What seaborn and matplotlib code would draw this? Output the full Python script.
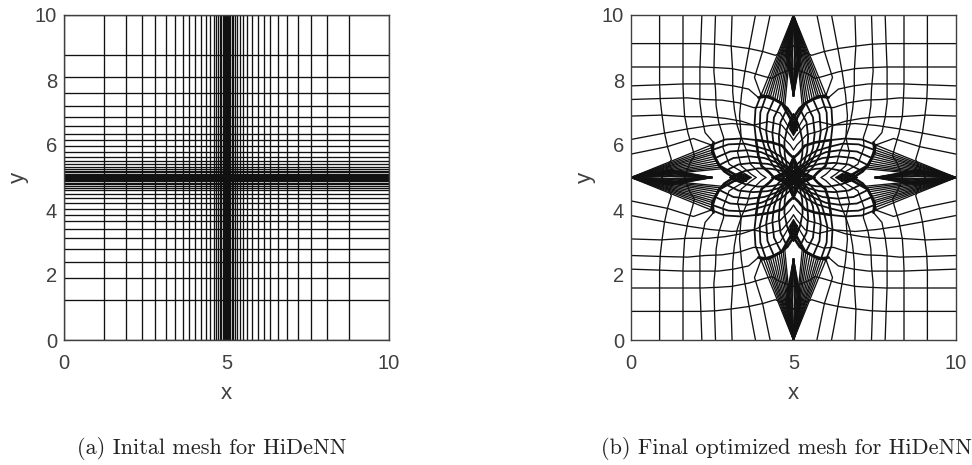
import matplotlib
matplotlib.use('Agg')
import matplotlib.pyplot as plt
import seaborn as sns

sns.set_theme(style='white')
plt.rcParams['font.family'] = ['Liberation Sans', 'DejaVu Sans']

# initial mesh, grid line positions
grid_left = [0, 1.23, 1.90, 2.39, 2.80, 3.14, 3.42, 3.66, 3.86, 4.04, 4.21, 4.36, 4.49,
             4.60, 4.67, 4.73, 4.79, 4.84, 4.88, 4.91, 4.94, 4.97]
grid_right = [10, 8.77, 8.10, 7.61, 7.20, 6.86, 6.58, 6.34, 6.14, 5.96, 5.79, 5.64, 5.51,
              5.40, 5.33, 5.27, 5.21, 5.16, 5.12, 5.09, 5.06, 5.03, 5.0]

# final mesh: lines that start on the left edge, as (dx, dy) offsets from the centre,
# read from the top left quadrant. The picture is symmetric so the rest is mirrored.
outer_lines = [
    [(5, 4.12), (4.12, 4.12), (3.38, 4.12), (2.84, 4.12), (2.38, 4.10), (1.88, 4.04), (1.38, 3.97), (0.92, 3.87), (0.56, 3.76), (0.36, 3.84), (0.15, 3.95), (0, 4.05)],
    [(5, 3.40), (4.12, 3.40), (3.38, 3.40), (2.82, 3.40), (2.36, 3.38), (1.90, 3.35), (1.38, 3.25), (0.87, 3.10), (0.66, 3.05), (0.46, 3.18), (0.15, 3.30), (0, 3.35)],
    [(5, 2.82), (4.12, 2.85), (3.34, 2.88), (2.80, 2.88), (2.31, 2.88), (1.85, 2.82), (1.38, 2.72), (1.08, 2.46)],
    [(5, 2.40), (4.07, 2.43), (3.26, 2.45), (2.72, 2.40), (2.20, 2.38), (1.69, 2.30), (1.23, 2.15), (0.92, 2.17), (0.41, 1.98), (0.15, 1.55), (0, 1.3)],
    [(5, 1.89), (4.08, 1.92), (3.25, 1.87), (2.62, 1.87), (2.10, 1.82), (1.59, 1.73), (1.23, 1.61), (0.77, 1.72), (0.36, 1.61), (0.10, 1.30), (0, 1.15)],
    [(5, 1.17), (4.0, 1.36), (3.23, 1.50), (2.56, 1.60), (1.90, 1.66), (1.23, 1.61), (0.77, 1.42), (0.41, 1.32), (0.10, 1.0), (0, 0.85)],
    [(5, 0.72), (3.88, 0.95), (3.08, 1.20), (2.53, 1.00)],
]

# dark bands where several mesh lines run together
thick_lines = [
    [(1.08, 2.46), (0.77, 2.50), (0.36, 2.28), (0.10, 1.82), (0, 1.6)],
    [(1.13, 1.15), (0.67, 1.08), (0.35, 0.98), (0.15, 0.74), (0, 0.6)],
    [(2.53, 1.00), (2.49, 0.85), (2.41, 0.60), (2.29, 0.38), (2.13, 0.19), (1.90, 0.04)],
]

# fan that leaves the left edge at the centre line and ends on the petal arc
fan_ends = [(2.53, 1.0), (2.51, 0.92), (2.49, 0.85), (2.47, 0.78), (2.45, 0.72), (2.42, 0.65),
            (2.40, 0.58), (2.37, 0.51), (2.33, 0.44), (2.29, 0.38), (2.25, 0.32), (2.20, 0.27)]

# black wedge along the centre line, lens further in, and the star at the centre
wedge_heights = [0.03, 0.06, 0.09, 0.12, 0.15, 0.18, 0.21, 0.24]
lens_heights = [0.03, 0.06, 0.09, 0.12, 0.15]
lens_hatch = [1.45, 1.50, 1.55, 1.60, 1.65, 1.70, 1.75, 1.80, 1.85]
star_heights = [0.03, 0.06, 0.09, 0.12, 0.15, 0.18, 0.21]

# domes that carry on from the fan towards the centre
dome_lines = [
    [(2.53, 1.00), (2.10, 1.17), (1.59, 1.20), (1.13, 1.15)],
    [(2.49, 0.85), (2.0, 1.02), (1.5, 1.04), (1.13, 0.95), (0.7, 0.82), (0.35, 0.62), (0.1, 0.4), (0, 0.3)],
    [(2.41, 0.60), (1.95, 0.80), (1.42, 0.84), (1.0, 0.78), (0.62, 0.62), (0.3, 0.42), (0.08, 0.22)],
    [(2.29, 0.38), (1.85, 0.60), (1.35, 0.65), (0.9, 0.60), (0.52, 0.46), (0.25, 0.30), (0.05, 0.12)],
    [(2.13, 0.19), (1.70, 0.40), (1.25, 0.45), (0.8, 0.42), (0.42, 0.32), (0.18, 0.18), (0.03, 0.05)],
    [(1.90, 0.04), (1.50, 0.20), (1.10, 0.28), (0.7, 0.27), (0.35, 0.20), (0.12, 0.10), (0, 0)],
]

ticks = [0, 2, 4, 6, 8, 10]
xticks = [0, 5, 10]
captions = ['(a) Inital mesh for HiDeNN', '(b) Final optimized mesh for HiDeNN']

fig = plt.figure(figsize=(9.72, 4.65), dpi=100)
ax1 = fig.add_axes([64 / 972, 1 - 340 / 465, 325 / 972, 325 / 465])
ax2 = fig.add_axes([631 / 972, 1 - 340 / 465, 325 / 972, 325 / 465])

line_kw = dict(color='#111111', lw=0.95, solid_joinstyle='round')
dome_kw = dict(color='#111111', lw=1.3, solid_joinstyle='round')
thick_kw = dict(color='#111111', lw=1.9, solid_joinstyle='round')

for v in grid_left + grid_right:
    ax1.axvline(v, **line_kw)
    ax1.axhline(v, **line_kw)


def draw_mirrored(ax, pts, kw=line_kw):
    for sx in (-1, 1):
        for sy in (-1, 1):
            ax.plot([5 + sx * p[0] for p in pts], [5 + sy * p[1] for p in pts], **kw)
            ax.plot([5 + sx * p[1] for p in pts], [5 + sy * p[0] for p in pts], **kw)


for pts in outer_lines:
    draw_mirrored(ax2, pts)
for pts in dome_lines:
    draw_mirrored(ax2, pts, dome_kw)
for pts in thick_lines:
    draw_mirrored(ax2, pts, thick_kw)
for end in fan_ends:
    draw_mirrored(ax2, [(5, 0.0), end])
for h in wedge_heights:
    draw_mirrored(ax2, [(5, 0.0), (3.8, h), (2.5, 0.0)])
for h in lens_heights:
    draw_mirrored(ax2, [(1.95, 0.0), (1.65, h), (1.35, 0.0)])
for x in lens_hatch:
    draw_mirrored(ax2, [(x, 0.0), (x, 0.12)])
for h in star_heights:
    draw_mirrored(ax2, [(0.65, 0.0), (0.2, h), (0, h)])

for ax in (ax1, ax2):
    ax.set_xlim(0, 10)
    ax.set_ylim(0, 10)
    ax.set_xticks(xticks)
    ax.set_yticks(ticks)
    ax.tick_params(direction='in', length=3, width=0.6, color='#404040', labelcolor='#404040', labelsize=14.5)
    ax.tick_params(axis='x', pad=10)
    ax.tick_params(axis='y', pad=5)
    ax.set_xlabel('x', fontsize=16, color='#404040', labelpad=7)
    ax.set_ylabel('y', fontsize=16, color='#404040', labelpad=4)
    for s in ax.spines.values():
        s.set_color('#404040')
        s.set_linewidth(1.0)

fig.text(212 / 972, 1 - 448 / 465, captions[0], family='cmr10', fontsize=16, color='#222222', ha='center', va='center')
fig.text(786 / 972, 1 - 448 / 465, captions[1], family='cmr10', fontsize=16, color='#222222', ha='center', va='center')

fig.savefig('out.png', dpi=100)
